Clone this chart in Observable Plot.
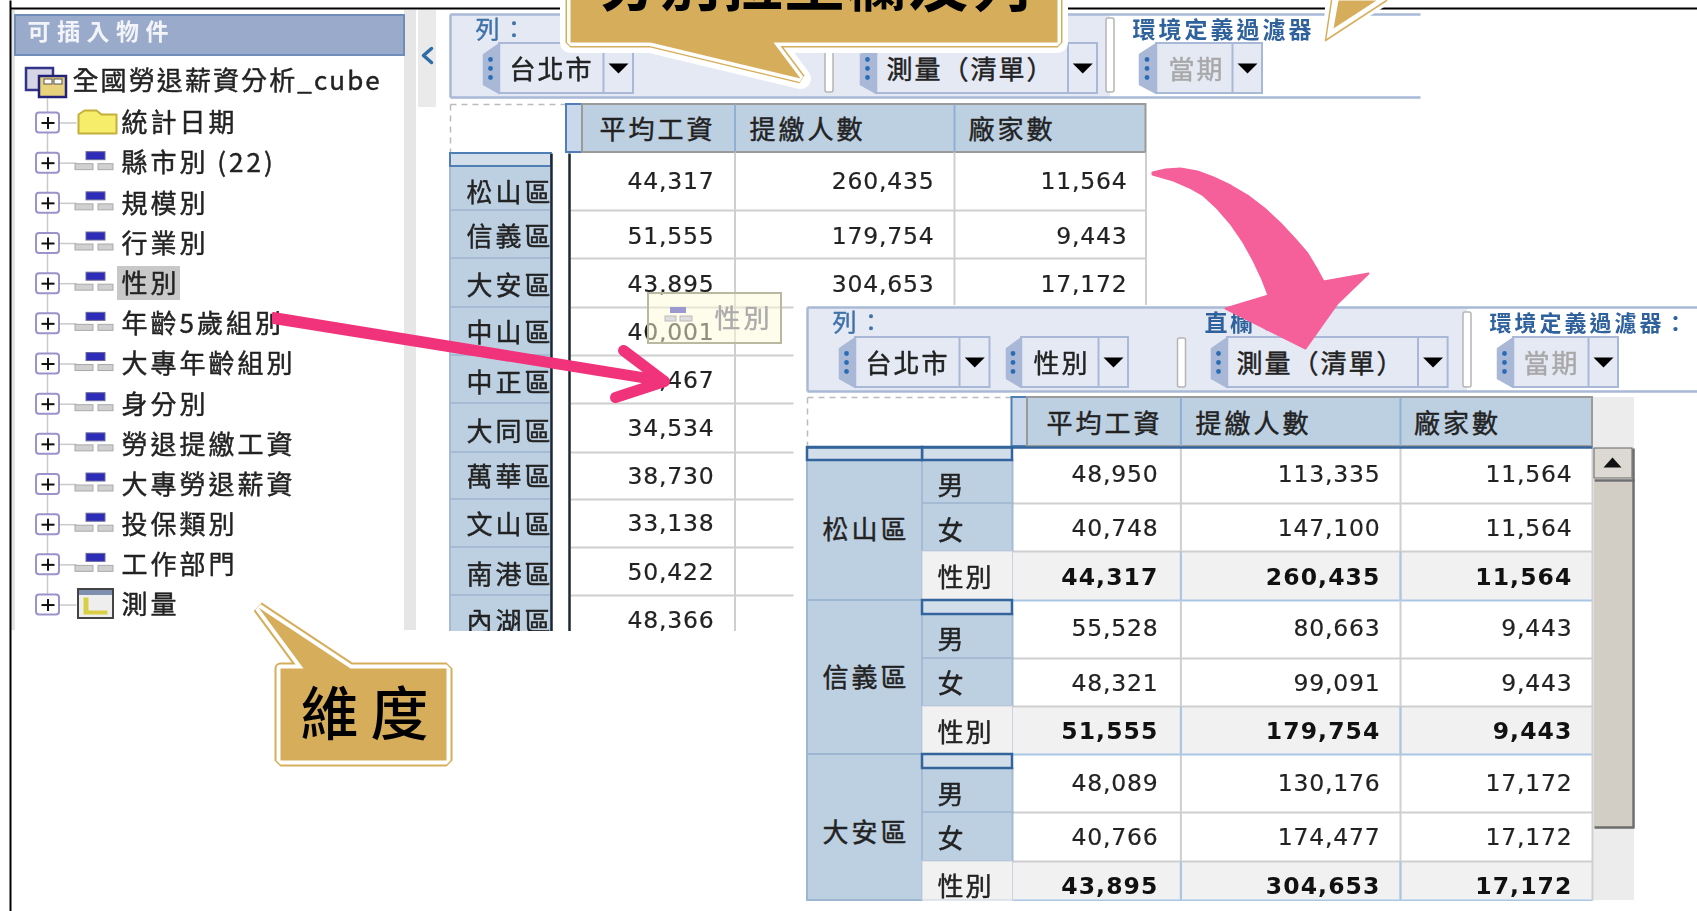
<!DOCTYPE html>
<html><head><meta charset="utf-8">
<script src="https://cdn.jsdelivr.net/npm/d3@7"></script>
<script src="https://cdn.jsdelivr.net/npm/@observablehq/plot@0.6"></script>
<style>html,body{margin:0;padding:0;background:#fff;overflow:hidden}svg{display:block}</style>
</head><body><div id="chart"></div>
<script>
// ---------- data ----------
const panelTitle = "可插入物件";
const cubeName = "全國勞退薪資分析_cube";
const treeLabels = ["統計日期","縣市別 (22)","規模別","行業別","性別","年齡5歲組別","大專年齡組別","身分別","勞退提繳工資","大專勞退薪資","投保類別","工作部門","測量"];
const measures = ["平均工資","提繳人數","廠家數"];
const districts = ["松山區","信義區","大安區","中山區","中正區","大同區","萬華區","文山區","南港區","內湖區"];
const avgWage = ["44,317","51,555","43,895","40,001","","34,534","38,730","33,138","50,422","48,366"];
const partialWage = ",467";
const workers = ["260,435","179,754","304,653"];
const firms = ["11,564","9,443","17,172"];
const genders = ["男","女","性別"];
const wage2 = ["48,950","40,748","44,317","55,528","48,321","51,555","48,089","40,766","43,895"];
const workers2 = ["113,335","147,100","260,435","80,663","99,091","179,754","130,176","174,477","304,653"];
const firms2 = ["11,564","11,564","11,564","9,443","9,443","9,443","17,172","17,172","17,172"];
const toolbarLabels = {row:"列：",col:"直欄：",ctx:"環境定義過濾器",ctx2:"環境定義過濾器："};
const chipLabels = {city:"台北市",gender:"性別",measure:"測量（清單）",period:"當期"};
const calloutTop = "分別拉至欄及列";
const calloutDim = "維度";

// ---------- helpers ----------
const CJK = '"Noto Sans CJK TC","Noto Sans CJK SC",sans-serif';
const LAT = '"DejaVu Sans",sans-serif';
const chipFill="#e4e9f4", chipLine="#a9b8d6", hdr="#bdd0e2", grid="#cfcfcf", blueTxt="#3f72a8", gold="#d6ae5b", ink="#222";
const box=(x1,y1,x2,y2,o={})=>Plot.rect([{x1,y1,x2,y2}],{x1:"x1",y1:"y1",x2:"x2",y2:"y2",...o});
const seg=(x1,y1,x2,y2,stroke,strokeWidth=2,o={})=>Plot.link([{x1,y1,x2,y2}],{x1:"x1",y1:"y1",x2:"x2",y2:"y2",stroke,strokeWidth,...o});
const poly=(pts,o={})=>Plot.line(pts.map(([x,y])=>({x,y})),{x:"x",y:"y",...o});
const spaced=s=>(i,sc,v,d,c,next)=>{const g=next(i,sc,v,d,c);g.setAttribute("letter-spacing",s);return g;};
const label=(rows,o={})=>{const {spacing=0,heavy=.45,...rest}=o;const fill=rest.fill||ink;return Plot.text(rows,{x:"x",y:"y",text:"t",lineAnchor:"middle",textAnchor:"start",fontFamily:CJK,fontSize:26,fill:ink,stroke:heavy?fill:"none",strokeWidth:heavy,render:spaced(spacing),...rest});};
const cjk=(t,x,y,o={})=>label([{t,x,y}],{spacing:2.5,...o});

function chip(x0,g,d,x1,y0,y1,t,tx,muted){
  const mid=(y0+y1)/2, ax=(d+x1)/2, ay=y0+25;
  return [
    box(g,y0,x1,y1,{fill:chipFill,stroke:chipLine,strokeWidth:2}),
    poly([[x0,y0+11],[g,y0],[g,y1],[x0,y1-9],[x0,y0+11]],{fill:"#a9b8d6",stroke:"#a9b8d6"}),
    seg(d,y0,d,y1,chipLine,2),
    Plot.dot([-9,0,9],{x:()=>(x0+g)/2-1,y:v=>mid+v,r:2.4,fill:"#2a6db5"}),
    poly([[ax-10,ay-5],[ax+10,ay-5],[ax,ay+5],[ax-10,ay-5]],{fill:"#000",stroke:"none"}),
    cjk(t,tx,y0+27,{fill:muted?"#a8a8a8":ink,spacing:2})
  ];
}
function separator(x,y1,y2){return box(x-4,y1,x+4,y2,{fill:"#fff",stroke:"#b5b5b5",strokeWidth:1.5,rx:2});}

// ---------- layout ----------
const treeY=i=>122.5+i*40.17;
const hierRows=treeLabels.map((t,i)=>({t,i})).filter(d=>d.i>0&&d.i<12);
const treeMarks=[
  box(404,10,416,630,{fill:"#e6e6e6"}), box(11,10,15,630,{fill:"#e4e4e4"}), box(418,10,436,107,{fill:"#eaeaea"}),
  poly([[431,48],[423,55],[431,62]],{fill:"none",stroke:"#2f6ea5",strokeWidth:3.5}),
  box(15,15,404,55,{fill:"#99aacb",stroke:"#6f8db8",strokeWidth:2}),
  cjk(panelTitle,27,32,{fill:"#f2f4f8",fontWeight:700,fontSize:23,spacing:6.5,heavy:0}),
  seg(47,98,47,treeY(12),"#c9c9c9",1.5),
  // root cube icon
  box(26,68,53,90,{fill:"#d5d5e5",stroke:"#33338a",strokeWidth:2.5}),
  box(39,76,66,97,{fill:"#e8d27c",stroke:"#22227a",strokeWidth:2.5}),
  box(44,79,52,84,{fill:"#fff",stroke:"#555"}), box(54,79,62,84,{fill:"#fff",stroke:"#555"}),
  cjk(cubeName,72,81,{spacing:2.1}),
  // connectors and expanders
  Plot.link(treeLabels.map((t,i)=>i),{x1:()=>59,x2:()=>76,y1:treeY,y2:treeY,stroke:"#c9c9c9",strokeWidth:1.5}),
  Plot.rect(treeLabels.map((t,i)=>i),{x1:()=>36,x2:()=>59,y1:i=>treeY(i)-10,y2:i=>treeY(i)+10,fill:"#fff",stroke:"#9b93c9",strokeWidth:2,rx:3}),
  Plot.link(treeLabels.map((t,i)=>i),{x1:()=>41,x2:()=>54,y1:treeY,y2:treeY,stroke:"#111",strokeWidth:2}),
  Plot.link(treeLabels.map((t,i)=>i),{x1:()=>47.5,x2:()=>47.5,y1:i=>treeY(i)-6,y2:i=>treeY(i)+6,stroke:"#111",strokeWidth:2}),
  // folder
  poly([[78,114],[84,110],[96,110],[101,114],[116,114],[116,133],[78,133],[78,114]],{fill:"#f6ee6a",stroke:"#c4ae3c",strokeWidth:2}),
  // hierarchy icons
  Plot.rect(hierRows,{x1:()=>86,x2:()=>105,y1:d=>treeY(d.i)-11,y2:d=>treeY(d.i)-3,fill:"#2c2cb8",stroke:"#6a6a9c"}),
  Plot.rect(hierRows,{x1:()=>75,x2:()=>93,y1:d=>treeY(d.i)+1,y2:d=>treeY(d.i)+7,fill:"#d0d0d0",stroke:"#aaa"}),
  Plot.rect(hierRows,{x1:()=>98,x2:()=>113,y1:d=>treeY(d.i)+1,y2:d=>treeY(d.i)+7,fill:"#d0d0d0",stroke:"#aaa"}),
  // measure icon
  box(78,589,113,618,{fill:"#eeeeee",stroke:"#444",strokeWidth:2}),
  box(79,590,112,595,{fill:"#7f8fb0"}),
  poly([[83,597],[88,597],[88,610],[107,610],[107,614],[83,614],[83,597]],{fill:"#d9cf45",stroke:"none"}),
  // highlight + labels
  box(117,266,180,300,{fill:"#c8c8c8"}),
  label(treeLabels.map((t,i)=>({t,x:121,y:treeY(i)+1})),{spacing:3})
];

const NUM={textAnchor:"end",fontFamily:LAT,fontSize:23.5,spacing:.8,heavy:.2};
const BOLD={textAnchor:"end",fontFamily:LAT,fontSize:23.5,fontWeight:700,spacing:1.1,fill:"#111",heavy:0};
const t1x=[582,734.5,954,1145.5];
const t1edges=[153,210,258,307,355,403,452,499,547,595,640];
const t1labelY=[193,237,286,333,383,432,477,525,575,622];
const t1valY=[181,236,284,332,380,428,476,523,572,620];
const t1=[
  seg(450,104,566,104,"#bbb",1.5,{strokeDasharray:"6 5"}), seg(450,104,450,152,"#bbb",1.5,{strokeDasharray:"6 5"}),
  box(566,104,582,152,{fill:"#c9d8ea",stroke:"#4f7fb4",strokeWidth:2}),
  box(582,104,1145.5,152,{fill:hdr,stroke:"#9a9a9a",strokeWidth:2}),
  seg(734.5,104,734.5,152,"#8fb0d2",2), seg(954,104,954,152,"#8fb0d2",2),
  label(measures.map((t,i)=>({t,x:[599,749,968][i],y:130})),{spacing:3}),
  // body grid
  Plot.link(t1edges.slice(1,3),{x1:()=>570,x2:()=>1145,y1:d=>d,y2:d=>d,stroke:grid,strokeWidth:2}),
  Plot.link(t1edges.slice(3,-1),{x1:()=>570,x2:()=>793,y1:d=>d,y2:d=>d,stroke:grid,strokeWidth:2}),
  seg(734.5,152,734.5,640,grid,2), seg(954,152,954,305,grid,2), seg(1145.5,152,1145.5,305,grid,2),
  // row headers
  Plot.rect(d3.pairs(t1edges),{x1:()=>450,x2:()=>551,y1:d=>d[0],y2:d=>d[1],fill:hdr,stroke:"#a5bad3",strokeWidth:2}),
  box(450,153,551,166,{fill:"#d3deeb",stroke:"#4f7fb4",strokeWidth:2}),
  label(districts.map((t,i)=>({t,x:466,y:t1labelY[i]})),{spacing:3}),
  box(551,153,569,640,{fill:"#fff"}),
  seg(551,153,551,640,"#1c2733",2.5), seg(569,153,569,640,"#1c2733",2.5),
  // values
  label(avgWage.map((t,i)=>({t,x:714,y:t1valY[i]})).filter(d=>d.t),NUM),
  label([{t:partialWage,x:714,y:380}],NUM),
  label(workers.map((t,i)=>({t,x:934,y:t1valY[i]})),NUM),
  label(firms.map((t,i)=>({t,x:1127,y:t1valY[i]})),NUM),
  // ghost tooltip
  box(648,293,781,343,{fill:"#fdfbd8",fillOpacity:.5,stroke:"#b9b9a2",strokeWidth:2}),
  box(670,307,686,313,{fill:"#9a9ad0"}), box(665,316,676,321,{fill:"#ddd",stroke:"#bbb"}), box(680,316,692,321,{fill:"#ddd",stroke:"#bbb"}),
  cjk(chipLabels.gender,714,319,{fill:"#ababab",spacing:3})
];

const toolbar1=[
  box(450,14,1110,97,{fill:chipFill}),
  seg(450,14,1420,14,chipLine,2.5), seg(450,97,1420,97,chipLine,2.5), seg(450,14,450,97,chipLine,2.5),
  separator(829,46,92), separator(1110,18,92),
  cjk(toolbarLabels.row,475,30,{fill:blueTxt,fontSize:24}),
  cjk(toolbarLabels.ctx,1132,30,{fill:"#2f619c",fontSize:23,fontWeight:700,spacing:3,heavy:0}),
  ...chip(483,499,603,633,43,93,chipLabels.city,509),
  ...chip(860,876,1067.5,1097,43,93,chipLabels.measure,886),
  ...chip(1139,1156,1232,1262,43,93,chipLabels.period,1168,true)
];

const crop1=[ box(794,305,1697,911,{fill:"#fff"}), box(0,631,1697,911,{fill:"#fff"}), seg(10,0,10,911,"#000",2) ];

const t2edges=[[447,460,503,551,600],[600,614,658,706,754],[754,768,812,861,900]];
const t2rowY=[474,528,577,628,683,731,783,837,886];
const t2labY=[486,531,578,640,684,733,795,839,887];
const t2groupY=[530,678,833];
const t2bands=[]; t2edges.forEach(e=>{t2bands.push([e[1],e[2]],[e[2],e[3]],[e[3],e[4]]);});
const t2label=t2bands.map((b,i)=>({i,b,t:genders[i%3]}));
const toolbar2=[
  box(807,307,1467,391,{fill:chipFill}),
  seg(807,307,1697,307,chipLine,2.5), seg(807,391,1697,391,chipLine,2.5), seg(807,307,807,391,chipLine,2.5),
  separator(1181.5,338,387), separator(1467,312,387),
  cjk(toolbarLabels.row,832,323,{fill:blueTxt,fontSize:24}),
  cjk(toolbarLabels.col,1204,323,{fill:"#2f619c",fontSize:23,fontWeight:700,heavy:0}),
  cjk(toolbarLabels.ctx2,1489,323,{fill:"#2f619c",fontSize:22,fontWeight:700,spacing:3,heavy:0}),
  ...chip(839,855,959,989.5,337,387,chipLabels.city,865),
  ...chip(1006,1021,1098,1128,337,387,chipLabels.gender,1033),
  ...chip(1211,1227,1417.5,1447.6,337,387,chipLabels.measure,1236),
  ...chip(1497,1513,1588,1618,337,387,chipLabels.period,1523,true)
];
const t2cols=[[wage2,1158],[workers2,1380],[firms2,1572]];
const t2=[
  seg(807,397,1011,397,"#bbb",1.5,{strokeDasharray:"6 5"}), seg(807,397,807,445,"#bbb",1.5,{strokeDasharray:"6 5"}),
  box(1592,397,1634,900,{fill:"#ececec"}),
  box(1011.5,397,1027,446,{fill:"#c9d8ea",stroke:"#4f7fb4",strokeWidth:2}),
  box(1027,397,1592,446,{fill:hdr,stroke:"#9a9a9a",strokeWidth:2}),
  seg(1180.4,397,1180.4,446,"#8fb0d2",2), seg(1400,397,1400,446,"#8fb0d2",2),
  label(measures.map((t,i)=>({t,x:[1046,1195,1413.5][i],y:424})),{spacing:3}),
  // total rows
  Plot.rect(t2label.filter(d=>d.i%3===2),{x1:()=>1012.5,x2:()=>1592,y1:d=>d.b[0],y2:d=>d.b[1],fill:"#f1f1f1"}),
  // body grid
  Plot.link(t2label,{x1:()=>1012,x2:()=>1592,y1:d=>d.b[1],y2:d=>d.b[1],stroke:d=>d.i%3===2?"#a9c6e4":grid,strokeWidth:2}),
  seg(1180.4,447,1180.4,900,grid,2), seg(1400,447,1400,900,grid,2), seg(1592,447,1592,900,grid,2),
  Plot.link(t2edges.map(e=>e[3]),{x1:()=>1180.4,x2:()=>1180.4,y1:d=>d,y2:d=>d+49,stroke:"#a9c6e4",strokeWidth:2}),
  Plot.link(t2edges.map(e=>e[3]),{x1:()=>1400,x2:()=>1400,y1:d=>d,y2:d=>d+49,stroke:"#a9c6e4",strokeWidth:2}),
  // row headers
  Plot.rect(t2edges,{x1:()=>807,x2:()=>922,y1:d=>d[0],y2:d=>d[4],fill:hdr,stroke:"#9db7d3",strokeWidth:2}),
  Plot.rect(t2label.filter(d=>d.i%3!==2),{x1:()=>922,x2:()=>1012.5,y1:d=>d.b[0],y2:d=>d.b[1],fill:hdr,stroke:"#a5bad3",strokeWidth:2}),
  Plot.rect(t2label.filter(d=>d.i%3===2),{x1:()=>922,x2:()=>1012.5,y1:d=>d.b[0],y2:d=>d.b[1],fill:"#f1f1f1",stroke:"#c9d3df",strokeWidth:1}),
  Plot.rect(t2edges,{x1:()=>922,x2:()=>1012,y1:d=>d[0],y2:d=>d[1],fill:"#d3deeb",stroke:"#33659c",strokeWidth:2.5}),
  box(807,447,922,460,{fill:"#d3deeb",stroke:"#33659c",strokeWidth:2.5}),
  seg(807,447,1592,447,"#33659c",2.5),
  label(districts.slice(0,3).map((t,i)=>({t,x:822,y:t2groupY[i]})),{spacing:3}),
  label(t2label.map((d,i)=>({t:d.t,x:937,y:t2labY[i]})),{spacing:2}),
  // values
  ...t2cols.flatMap(([vals,x])=>[
    label(vals.map((t,i)=>({t,x,y:t2rowY[i]})).filter((d,i)=>i%3!==2),NUM),
    label(vals.map((t,i)=>({t,x,y:t2rowY[i]})).filter((d,i)=>i%3===2),BOLD)
  ]),
  // scrollbar
  box(1594,448,1632,478,{fill:"#dcd9d2",stroke:"#666",strokeWidth:1}),
  poly([[1603,467],[1621,467],[1612,457],[1603,467]],{fill:"#111",stroke:"none"}),
  box(1594,482,1632,827,{fill:"#d2cec5"}),
  seg(1633,448,1633,827,"#6d6d6d",2.5), seg(1594,827,1634,827,"#6d6d6d",2.5), seg(1594,480,1634,480,"#6d6d6d",2.5)
];
const crop2=[ box(794,901,1697,911,{fill:"#fff"}) ];

const frame=[ seg(10,8,1697,8,"#000",2) ];

const mainCall=[[570,-20],[1057,-20],[1057,42],[773,42],[800,78],[650,42],[570,42],[570,-20]];
const dimCall=[[280,668],[303,668],[258,607],[350,668],[446,668],[446,760],[280,760],[280,668]];
const overlays=[
  // pink straight arrow
  poly([[273,313],[273,322],[660,384],[660,376],[273,313]],{fill:"#f0337a",stroke:"#f0337a",strokeWidth:3}),
  poly([[623,350],[664,381],[615,397]],{stroke:"#f0337a",strokeWidth:11,strokeLinejoin:"round",strokeLinecap:"round",fill:"none"}),
  // pink curved arrow
  poly([[1152,172],[1165,169],[1180,168],[1197,171],[1213,177],[1230,185],[1247,195],[1264,208],[1280,223],[1294,238],[1307,253],[1316,268],[1323,281],[1368,273],[1337,303],[1305,348],[1225,308],[1268,295],[1261,277],[1253,260],[1243,242],[1230,223],[1217,208],[1203,195],[1189,187],[1173,180],[1152,174],[1152,172]],
    {fill:"#f5609a",stroke:"#f5609a",strokeWidth:2,strokeLinejoin:"round"}),
  // top-right callout tail
  poly([[1326,0],[1323,44],[1392,0],[1326,0]],{fill:"#fff",stroke:"#fff",strokeWidth:2}),
  poly([[1331,0],[1325,40],[1386,0]],{fill:"none",stroke:gold,strokeWidth:1.5}),
  poly([[1338,0],[1333,28],[1376,0],[1338,0]],{fill:gold,stroke:"none"}),
  // main callout
  poly(mainCall,{stroke:"#fff",strokeWidth:21,strokeLinejoin:"round",fill:"#fff"}),
  poly(mainCall,{stroke:gold,strokeWidth:10,strokeLinejoin:"miter",fill:gold}),
  poly(mainCall,{stroke:"#fff",strokeWidth:7,strokeLinejoin:"miter",fill:gold}),
  poly(mainCall,{stroke:"none",fill:gold}),
  label([{t:calloutTop,x:815,y:-14}],{textAnchor:"middle",fontSize:60,fontWeight:700,fill:"#000",spacing:2,heavy:0}),
  // dimension callout
  poly(dimCall,{stroke:gold,strokeWidth:12,strokeLinejoin:"miter",fill:gold}),
  poly(dimCall,{stroke:"#fff",strokeWidth:8,strokeLinejoin:"miter",fill:gold}),
  poly(dimCall,{stroke:"none",fill:gold}),
  label([{t:calloutDim,x:370,y:716}],{textAnchor:"middle",fontSize:58,fontWeight:500,fill:"#000",spacing:12,heavy:0})
];

// ---------- assemble through one Plot ----------
const blurred=[...frame,...treeMarks,...t1,...toolbar1], middle=crop1, blurred2=[...toolbar2,...t2], rest=[...crop2,...overlays];
const svg=Plot.plot({
  width:1697,height:911,margin:0,
  x:{domain:[0,1697],range:[0,1697],axis:null},
  y:{domain:[0,911],range:[0,911],axis:null},
  style:{background:"#fff"},
  marks:[...blurred,...middle,...blurred2,...rest]
});
// soften the screenshot layers (the overlays stay crisp)
const gs=[...svg.children].filter(c=>c.tagName.toLowerCase()==="g");
const wrap=(list)=>{const w=document.createElementNS("http://www.w3.org/2000/svg","g");w.style.filter="blur(0.6px)";list[0].before(w);list.forEach(n=>w.appendChild(n));};
const a=blurred.length,b=a+middle.length,c=b+blurred2.length;
wrap(gs.slice(1,a)); wrap(gs.slice(b,c));
document.getElementById("chart").appendChild(svg);
</script></body></html>
